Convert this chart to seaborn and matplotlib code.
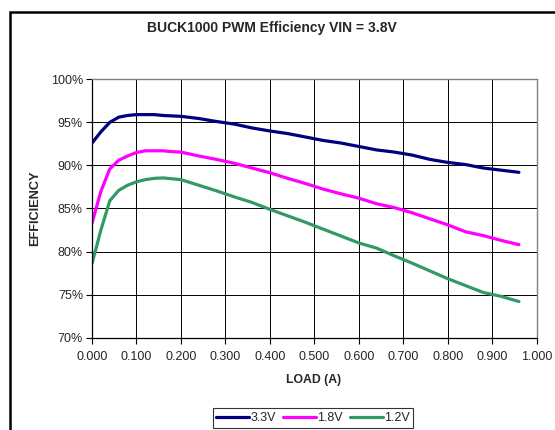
import matplotlib
matplotlib.use("Agg")
import matplotlib.pyplot as plt
from matplotlib.patches import Rectangle
import seaborn as sns
import pandas as pd

load = [0.00, 0.02, 0.04, 0.06, 0.08, 0.10, 0.12, 0.14, 0.16, 0.18, 0.20,
        0.24, 0.28, 0.32, 0.36, 0.40, 0.44, 0.48, 0.52, 0.56, 0.60,
        0.64, 0.68, 0.72, 0.76, 0.80, 0.84, 0.88, 0.92, 0.96]
eff_33 = [92.6, 93.9, 95.0, 95.6, 95.8, 95.9, 95.9, 95.9, 95.8, 95.75, 95.7,
          95.45, 95.1, 94.8, 94.35, 94.0, 93.7, 93.3, 92.9, 92.6, 92.2,
          91.8, 91.55, 91.2, 90.7, 90.35, 90.1, 89.7, 89.45, 89.2]
eff_18 = [83.3, 87.0, 89.6, 90.6, 91.1, 91.5, 91.7, 91.7, 91.7, 91.6, 91.55,
          91.1, 90.7, 90.25, 89.7, 89.15, 88.5, 87.9, 87.25, 86.7, 86.2,
          85.55, 85.1, 84.5, 83.8, 83.1, 82.3, 81.85, 81.3, 80.8]
eff_12 = [78.6, 82.5, 85.9, 87.1, 87.7, 88.1, 88.35, 88.5, 88.55, 88.45, 88.35,
          87.7, 87.05, 86.35, 85.7, 84.9, 84.15, 83.4, 82.6, 81.8, 81.0,
          80.4, 79.5, 78.65, 77.75, 76.85, 76.05, 75.25, 74.8, 74.2]
series_names = ["3.3V", "1.8V", "1.2V"]
colors = ["#000080", "#FF00FF", "#339966"]
x_ticks = [0.0, 0.1, 0.2, 0.3, 0.4, 0.5, 0.6, 0.7, 0.8, 0.9, 1.0]
y_ticks = [70, 75, 80, 85, 90, 95, 100]

rows = []
for name, vals in zip(series_names, [eff_33, eff_18, eff_12]):
    for x, v in zip(load, vals):
        rows.append({"load": x, "eff": v, "series": name})
df = pd.DataFrame(rows)

sns.set_style("white")
plt.rcParams["font.family"] = ["Liberation Sans", "DejaVu Sans"]

fig = plt.figure(figsize=(5.55, 4.30), dpi=100)
ax = fig.add_axes([92/555, 1-337.7/430, (536.7-92)/555, (337.7-79.3)/430])

sns.lineplot(data=df, x="load", y="eff", hue="series", hue_order=series_names,
             palette=colors, linewidth=2.3, ax=ax, legend=False, sort=False)

ax.set_xlim(0, 1.0)
ax.set_ylim(70, 100)
ax.set_xticks(x_ticks)
ax.set_xticklabels([f"{t:.3f}" for t in x_ticks], fontsize=9)
ax.set_yticks(y_ticks)
ax.set_yticklabels([f"{t}%" for t in y_ticks], fontsize=9)
ax.grid(True, color="black", linewidth=0.7)
ax.set_axisbelow(True)
ax.tick_params(axis="both", direction="out", length=4, width=0.8, color="black", pad=3)
ax.tick_params(axis="x", bottom=True, pad=5.5)
ax.tick_params(axis="y", left=True, pad=2.5)
for s in ["left", "bottom"]:
    ax.spines[s].set_color("black")
    ax.spines[s].set_linewidth(0.9)
for s in ["top", "right"]:
    ax.spines[s].set_color("#808080")
    ax.spines[s].set_linewidth(1.0)

ax.set_xlabel("")
ax.set_ylabel("")
fig.text(314/555, 1-380/430, "LOAD (A)", fontsize=8.8, fontweight="bold",
         ha="center", va="center")
fig.text(35/555, 1-208/430, "EFFICIENCY", rotation=90, fontsize=9.2,
         fontweight="bold", ha="center", va="center")

fig.text(272/555, 1-28/430, "BUCK1000 PWM Efficiency VIN = 3.8V",
         fontsize=10, fontweight="bold", ha="center", va="center")

handles = [plt.Line2D([0], [0], color=c, linewidth=2.3) for c in colors]
leg = fig.legend(handles, series_names, loc="center", bbox_to_anchor=(313/555, 1-418/430),
                 ncol=3, fontsize=9, frameon=True, fancybox=False,
                 handlelength=2.6, handletextpad=0.1, columnspacing=0.6,
                 borderpad=0.3, borderaxespad=0)
leg.get_frame().set_edgecolor("black")
leg.get_frame().set_linewidth(0.8)

fig.patches.append(Rectangle((10/555, -0.1), 1.2, (1-12/430) + 0.1,
                             transform=fig.transFigure, fill=False,
                             edgecolor="black", linewidth=1.8))

fig.savefig("out.png", dpi=100)
